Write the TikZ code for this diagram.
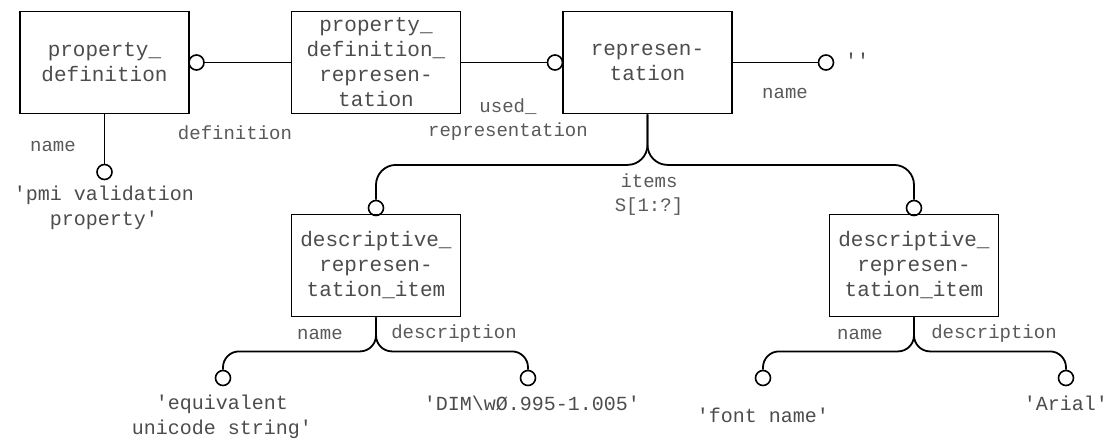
\documentclass[tikz,border=0pt]{standalone}
\usepackage{fontspec}
\setmonofont{Liberation Mono}

\begin{document}
\begin{tikzpicture}[x=0.5pt,y=-0.5pt,
        main/.style = {draw, rectangle, line width=0.9pt, minimum width=84.5pt, minimum height=51pt, inner sep=0pt, align=center, text=black!70, font=\ttfamily\fontsize{10.5}{12.5}\selectfont},
        dot/.style = {draw, circle, line width=0.8pt, minimum size=7.5pt, inner sep=0pt},
        role/.style = {align=center, text=black!65, font=\ttfamily\fontsize{9.5}{12}\selectfont},
        val/.style = {align=center, text=black!70, font=\ttfamily\fontsize{10}{12.5}\selectfont},
        link/.style = {line width=0.9pt},
        branch/.style = {line width=0.9pt, rounded corners=10pt}]
        \useasboundingbox (0,0) rectangle (1110,440);
        % entities
        \node[main] (1) at (104.5,62.5) {property\_\\definition};
        \node[main] (2) at (376,62.5) {property\_\\definition\_\\represen-\\tation};
        \node[main] (3) at (647.5,62.5) {represen-\\tation};
        \node[main] (4) at (376,265.5) {descriptive\_\\represen-\\tation\_item};
        \node[main] (5) at (914,265.5) {descriptive\_\\represen-\\tation\_item};
        % end circles
        \node[dot] (c1) at (196.5,62.5) {};
        \node[dot] (c2) at (555,62.5) {};
        \node[dot] (c3) at (826,62.5) {};
        \node[dot] (c4) at (104.5,172) {};
        \node[dot] (c5) at (376,208) {};
        \node[dot] (c6) at (914,208) {};
        \node[dot] (c7) at (223,378) {};
        \node[dot] (c8) at (528,378) {};
        \node[dot] (c9) at (763,378) {};
        \node[dot] (c10) at (1066,378) {};
        % connectors
        \draw[link] (c1) -- (2);
        \draw[link] (2) -- (c2);
        \draw[link] (3) -- (c3);
        \draw[link] (1) -- (c4);
        \draw[branch] (3.south) -- ++(0,50.5) -| (c5.north);
        \draw[branch] (3.south) -- ++(0,50.5) -| (c6.north);
        \draw[branch, rounded corners=8pt] (4.south) -- ++(0,34) -| (c7.north);
        \draw[branch, rounded corners=8pt] (4.south) -- ++(0,34) -| (c8.north);
        \draw[branch, rounded corners=8pt] (5.south) -- ++(0,34) -| (c9.north);
        \draw[branch, rounded corners=8pt] (5.south) -- ++(0,34) -| (c10.north);
        % roles
        \node[role] (r1) at (53,146) {name};
        \node[role] (r2) at (235,133) {definition};
        \node[role] (r3) at (508,120) {used\_\\representation};
        \node[role] (r4) at (785,93) {name};
        \node[role] (r5) at (649,195) {items\\S[1:?]};
        \node[role] (r6) at (320,334) {name};
        \node[role] (r7) at (454,334) {description};
        \node[role] (r8) at (860,334) {name};
        \node[role] (r9) at (994,334) {description};
        % values
        \node[val] (v1) at (104,208) {'pmi validation\\property'};
        \node[val] (v2) at (857,60) {''};
        \node[val] (v3) at (222,417) {'equivalent\\unicode string'};
        \node[val] (v4) at (532,403) {'DIM\textbackslash wØ.995-1.005'};
        \node[val] (v5) at (763,415) {'font name'};
        \node[val] (v6) at (1066,403) {'Arial'};
\end{tikzpicture}
\end{document}
